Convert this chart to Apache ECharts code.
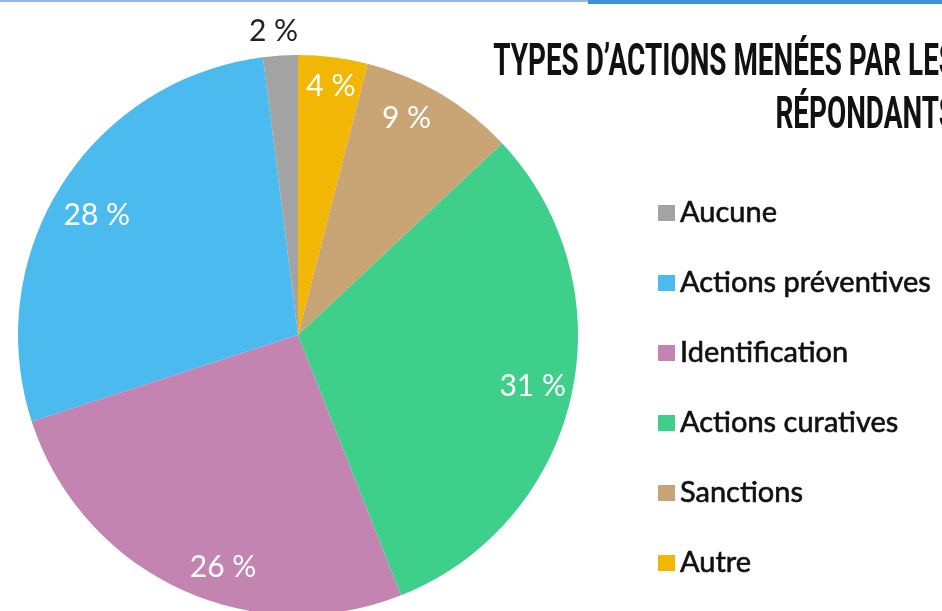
<!DOCTYPE html>
<html>
<head>
<meta charset="utf-8">
<script src="https://cdn.jsdelivr.net/npm/echarts@6/dist/echarts.min.js"></script>
<style>
  html, body { margin: 0; padding: 0; background: #fff; }
  #chart { width: 942px; height: 611px; }
</style>
</head>
<body>
<div id="chart"></div>
<script>
// legend order, drawn counter-clockwise from 12 o'clock
const categories = ["Aucune", "Actions préventives", "Identification", "Actions curatives", "Sanctions", "Autre"];
const values = [2, 28, 26, 31, 9, 4];
const colors = ["#a3a3a3", "#4bbbef", "#c384b1", "#3ecf8b", "#c9a474", "#f2b705"];

const titleText = "TYPES D\u2019ACTIONS MENÉES PAR LES\nRÉPONDANTS";

const center = [298, 335];
const radius = 280;
// small nudges so the percentages sit where the original put them
const labelNudge = [[24, -2], [7, 12], [30, 9], [-6, -2], [-17, -4], [2, -4]];

const pieData = categories.map((name, i) => ({
  name: name,
  value: values[i],
  itemStyle: { color: colors[i] }
}));

// transparent ring so the inside labels sit near the rim
const labelData = categories.map((name, i) => {
  const small = values[i] < 3;
  return {
    name: name,
    value: values[i],
    label: small
      ? { position: "outside", color: "#222" }
      : { position: "inside" },
    labelLine: { show: false, length: 22, length2: 0 }
  };
});

const chart = echarts.init(document.getElementById("chart"));
chart.setOption({
  animation: false,
  color: colors,
  graphic: [
    { type: "rect", shape: { x: 0, y: 0, width: 590, height: 2 }, style: { fill: "#8fbbe3" } },
    { type: "rect", shape: { x: 588, y: 0, width: 354, height: 4 }, style: { fill: "#3e90d6" } },
    {
      type: "text",
      x: 956,
      y: 37,
      scaleX: 0.62,
      style: {
        text: titleText,
        align: "right",
        fill: "#111",
        font: "bold 45px Roboto",
        lineHeight: 53
      }
    }
  ],
  legend: {
    orient: "vertical",
    left: 653,
    top: 192,
    icon: "rect",
    itemWidth: 17,
    itemHeight: 16,
    itemGap: 38,
    selectedMode: false,
    data: categories,
    textStyle: {
      fontFamily: "Lato",
      fontSize: 29,
      color: "#111",
      lineHeight: 32,
      textBorderColor: "#111",
      textBorderWidth: 0.6
    }
  },
  series: [
    {
      type: "pie",
      center: center,
      radius: [0, radius],
      startAngle: 90,
      clockwise: false,
      silent: true,
      label: { show: false },
      labelLine: { show: false },
      data: pieData
    },
    {
      type: "pie",
      center: center,
      radius: [radius * 0.74, radius],
      startAngle: 90,
      clockwise: false,
      silent: true,
      itemStyle: { color: "transparent" },
      label: {
        show: true,
        formatter: "{c} %",
        fontFamily: "Lato",
        fontSize: 30,
        color: "#fff"
      },
      labelLayout: function (params) {
        const n = labelNudge[params.dataIndex];
        return { dx: n[0], dy: n[1] };
      },
      data: labelData
    }
  ]
});
</script>
</body>
</html>
